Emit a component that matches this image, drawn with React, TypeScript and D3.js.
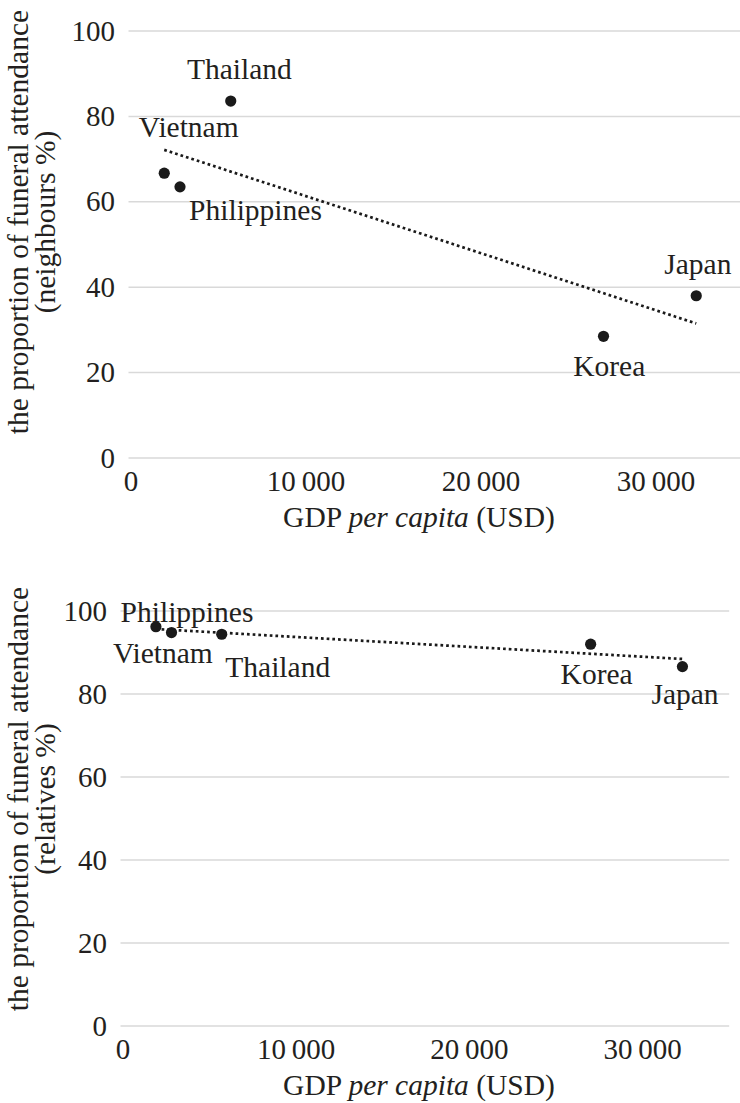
import React from 'react';
import * as d3 from 'd3';

// ---- data ----
const countries = ['Vietnam', 'Philippines', 'Thailand', 'Korea', 'Japan'];
const gdpPerCapita = [1900, 2800, 5700, 27000, 32300];
const neighboursPct = [66.7, 63.5, 83.6, 28.5, 38.0];
const relativesPct = [96.2, 94.8, 94.4, 92.0, 86.6];
const xTicks = [0, 10000, 20000, 30000];
const yTicks = [0, 20, 40, 60, 80, 100];
const xDomain = [0, 35000];
const yDomain = [0, 100];
const yTitleLine1 = 'the proportion of funeral attendance';
const yTitleTopLine2 = '(neighbours %)';
const yTitleBottomLine2 = '(relatives %)';

// ---- layout (label offsets relative to their point, px) ----
const topLabelOffsets = [
  [24.5, -36],
  [75.5, 33.3],
  [8.6, -21.7],
  [5.7, 39.4],
  [1.6, -21.7],
];
const bottomLabelOffsets = [
  [7, 36.6],
  [15.5, -11],
  [56, 42.4],
  [6, 39.3],
  [2.6, 37.3],
];

const FONT = "'Liberation Serif'";
const TEXT = '#231f20';
const GRID = '#d9d9d9';

const fmt = (v: number) => d3.format(',')(v).replace(/,/g, '\u2009');

type PanelProps = {
  values: number[];
  offsets: number[][];
  xRange: [number, number];
  yRange: [number, number];
  yTickRight: number;
  titleCenterY: number;
  line2: string;
};

const txt = (size: number): React.CSSProperties => ({ fontFamily: FONT, fontSize: size, fill: TEXT });

function Panel({ values, offsets, xRange, yRange, yTickRight, titleCenterY, line2 }: PanelProps) {
  const x = d3.scaleLinear().domain(xDomain).range(xRange);
  const y = d3.scaleLinear().domain(yDomain).range(yRange);

  // least-squares linear trend line
  const mx = d3.mean(gdpPerCapita) as number;
  const my = d3.mean(values) as number;
  const sxy = d3.sum(gdpPerCapita, (g, i) => (g - mx) * (values[i] - my));
  const sxx = d3.sum(gdpPerCapita, (g) => (g - mx) * (g - mx));
  const slope = sxy / sxx;
  const intercept = my - slope * mx;
  const [x0, x1] = d3.extent(gdpPerCapita) as [number, number];
  const trend = d3
    .line<number>()
    .x((g) => x(g))
    .y((g) => y(intercept + slope * g))([x0, x1]);

  const baseY = y(0);
  return (
    <g>
      {yTicks.map((t) => (
        <g key={'g' + t}>
          <line x1={x(0) - 2.5} x2={x.range()[1]} y1={y(t)} y2={y(t)} stroke={GRID} strokeWidth={1.5} />
          <text x={yTickRight} y={y(t) + 9.5} textAnchor="end" style={txt(29)}>
            {t}
          </text>
        </g>
      ))}
      {xTicks.map((t) => (
        <text key={'x' + t} x={x(t)} y={baseY + 33} textAnchor="middle" style={txt(29)}>
          {fmt(t)}
        </text>
      ))}
      <text x={419} y={baseY + 69} textAnchor="middle" style={txt(29.5)}>
        GDP <tspan style={{ fontStyle: 'italic' }}>per capita</tspan> (USD)
      </text>
      <text transform={`translate(27.5,${titleCenterY}) rotate(-90)`} textAnchor="middle" style={txt(29.5)}>
        {yTitleLine1}
      </text>
      <text transform={`translate(54.5,${titleCenterY}) rotate(-90)`} textAnchor="middle" style={txt(29.5)}>
        {line2}
      </text>
      <path d={trend || ''} fill="none" stroke="#1a1a1a" strokeWidth={2.7} strokeDasharray="2.7 3" />
      {gdpPerCapita.map((g, i) => (
        <circle key={'c' + i} cx={x(g)} cy={y(values[i])} r={5.6} fill="#1a1a1a" />
      ))}
      {countries.map((c, i) => (
        <text
          key={'l' + c}
          x={x(gdpPerCapita[i]) + offsets[i][0]}
          y={y(values[i]) + offsets[i][1]}
          textAnchor="middle"
          style={txt(29.5)}
        >
          {c}
        </text>
      ))}
    </g>
  );
}

export default function App() {
  return (
    <div style={{ position: 'absolute', left: 0, top: 0, width: 740, height: 1103, background: '#fff' }}>
      <svg width={740} height={1103} style={{ display: 'block' }}>
        <rect width={740} height={1103} fill="#fff" />
        <Panel
          values={neighboursPct}
          offsets={topLabelOffsets}
          xRange={[131, 743.5]}
          yRange={[458, 31]}
          yTickRight={115}
          titleCenterY={222}
          line2={yTitleTopLine2}
        />
        <Panel
          values={relativesPct}
          offsets={bottomLabelOffsets}
          xRange={[123, 729.2]}
          yRange={[1026, 611]}
          yTickRight={107}
          titleCenterY={799}
          line2={yTitleBottomLine2}
        />
      </svg>
    </div>
  );
}
